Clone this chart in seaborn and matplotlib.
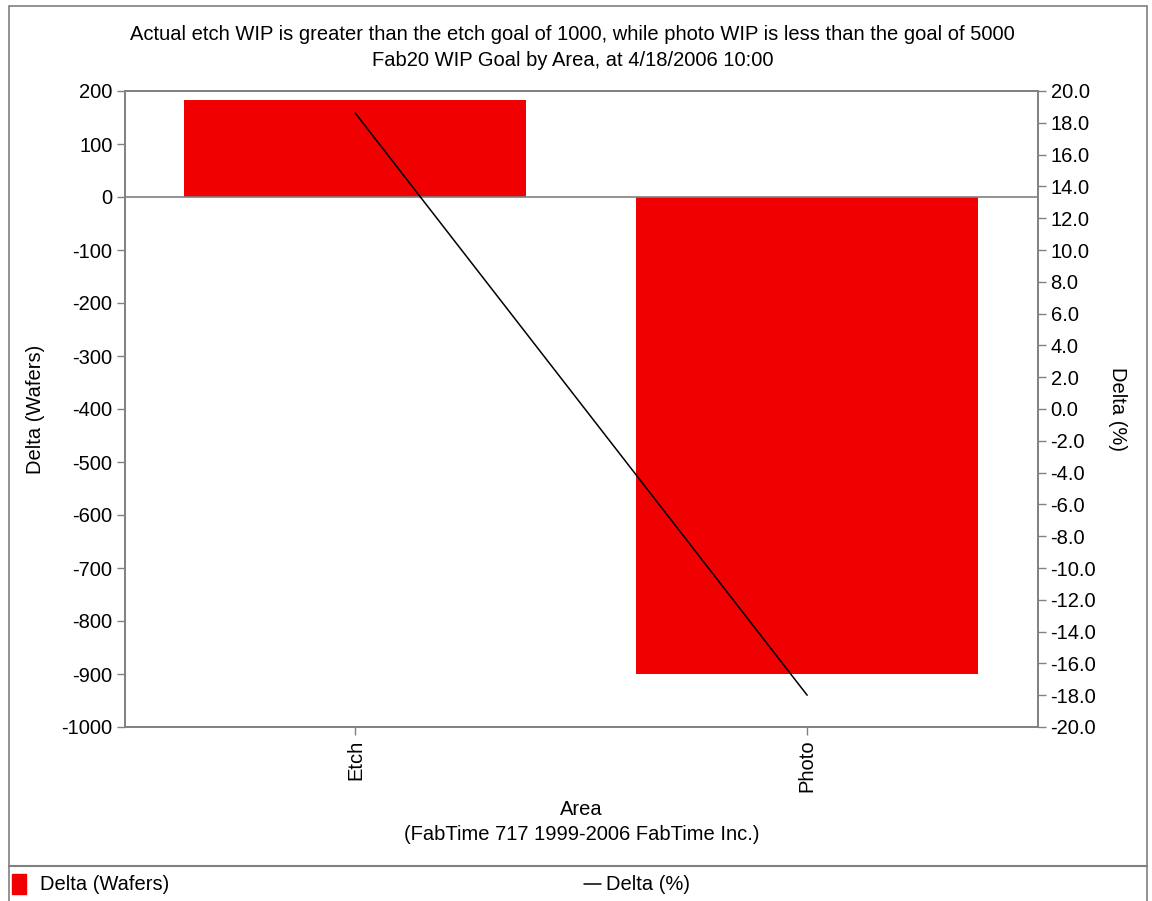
import numpy as np
import pandas as pd
import matplotlib
matplotlib.use("Agg")
import matplotlib.pyplot as plt
import seaborn as sns
from matplotlib.patches import Rectangle
from matplotlib.lines import Line2D
from matplotlib.ticker import FormatStrFormatter

# Data
areas = ["Etch", "Photo"]
delta_wafers = [183, -900]
delta_pct = [18.6, -18.0]

left_ticks = list(range(-1000, 201, 100))
right_ticks = list(range(-20, 21, 2))

title_lines = [
    "Actual etch WIP is greater than the etch goal of 1000, while photo WIP is less than the goal of 5000",
    "Fab20 WIP Goal by Area, at 4/18/2006 10:00",
]

sns.set_theme(style="white")
plt.rcParams["font.family"] = ["Liberation Sans", "DejaVu Sans"]
plt.rcParams["axes.unicode_minus"] = False
plt.rcParams["text.color"] = "black"
plt.rcParams["axes.labelcolor"] = "black"
FS = 14.5
GREY = "#808080"

fig = plt.figure(figsize=(11.52, 9.01), dpi=100)
ax = fig.add_axes([125 / 1152, 1 - 727 / 901, (1038 - 125) / 1152, (727 - 91) / 901])

df = pd.DataFrame({"Area": areas, "Delta (Wafers)": delta_wafers})
sns.barplot(data=df, x="Area", y="Delta (Wafers)", color="#f00000", saturation=1,
            width=0.757, ax=ax, edgecolor="none")
ax.set_xlim(-0.51, 1.511)
ax.set_ylim(-1000, 200)
ax.set_yticks(left_ticks)
ax.axhline(0, color=GREY, lw=1.2, zorder=3)

ax2 = ax.twinx()
sns.lineplot(x=np.arange(len(areas)), y=delta_pct, color="black", lw=1.1, ax=ax2)
ax2.set_ylim(-20, 20)
ax2.set_yticks(right_ticks)
ax2.yaxis.set_major_formatter(FormatStrFormatter("%.1f"))
ax2.set_xlim(-0.51, 1.511)

for a in (ax, ax2):
    for s in a.spines.values():
        s.set_color(GREY)
        s.set_linewidth(1.2)
    a.tick_params(axis="both", colors=GREY, labelcolor="black", labelsize=FS,
                  length=6, width=1, direction="out", pad=3)

ax.set_xticks(range(len(areas)))
ax.set_xticklabels(areas, rotation=90)
ax.tick_params(axis="x", bottom=True, length=6)
ax.tick_params(axis="y", left=True)
ax2.tick_params(axis="y", right=True)

ax.set_xlabel("Area\n(FabTime 717 1999-2006 FabTime Inc.)", fontsize=FS, labelpad=6,
              linespacing=1.35)
ax.set_ylabel("Delta (Wafers)", fontsize=FS, labelpad=12)
ax2.set_ylabel("Delta (%)", fontsize=FS, rotation=-90, labelpad=22)

fig.text(0.497, 1 - 35 / 901, title_lines[0], ha="center", va="center", fontsize=FS)
fig.text(0.497, 1 - 60 / 901, title_lines[1], ha="center", va="center", fontsize=FS)

# Outer frame and legend strip
W, H = 1152, 901
fig.patches.append(Rectangle((9 / W, -0.01), (1147 - 9) / W, 1 - 6 / H + 0.01,
                             transform=fig.transFigure, fill=False,
                             edgecolor=GREY, lw=1.2))
fig.lines.append(Line2D([9 / W, 1147 / W], [1 - 866 / H] * 2, transform=fig.transFigure,
                        color=GREY, lw=1.5))

fig.patches.append(Rectangle((12 / W, 1 - 894 / H), 14 / W, 20 / H,
                             transform=fig.transFigure, color="#f00000"))
fig.text(40 / W, 1 - 884 / H, "Delta (Wafers)", fontsize=FS, va="center")
fig.lines.append(Line2D([584 / W, 601 / W], [1 - 884 / H] * 2, transform=fig.transFigure,
                        color="black", lw=1.1))
fig.text(606 / W, 1 - 884 / H, "Delta (%)", fontsize=FS, va="center")

fig.savefig("out.png", dpi=100, facecolor="white")
